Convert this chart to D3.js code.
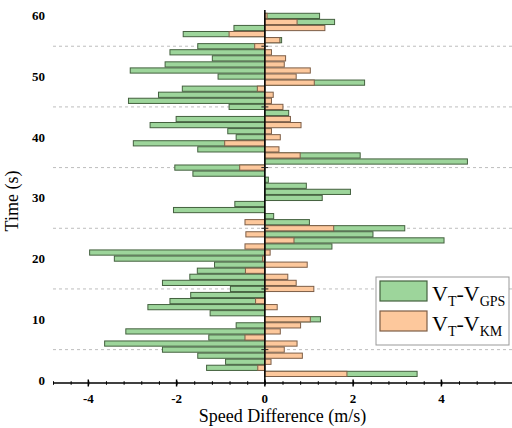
<!DOCTYPE html>
<html>
<head>
<meta charset="utf-8">
<script src="https://cdn.jsdelivr.net/npm/d3@7"></script>
<style>
  body { margin: 0; background: #fff; }
  text { font-family: "Liberation Serif", "Times New Roman", serif; }
</style>
</head>
<body>
<div id="chart"></div>
<script>
// time (s) of each bar
var time = [1, 2, 3, 4, 5, 6, 7, 8, 9, 10, 11, 12, 13, 14, 15, 16, 17, 18, 19, 20,
            21, 22, 23, 24, 25, 26, 27, 28, 29, 30, 31, 32, 33, 34, 35, 36, 37, 38, 39, 40,
            41, 42, 43, 44, 45, 46, 47, 48, 49, 50, 51, 52, 53, 54, 55, 56, 57, 58, 59, 60];

// V_T - V_GPS (m/s)
var gps = [3.45, -1.32, -0.89, -1.52, -2.32, -3.63, -1.27, -3.15, -0.65, 1.26,
           -1.24, -2.65, -2.15, -1.68, -0.78, -2.32, -1.70, -1.53, -1.14, -3.41,
           -3.97, 1.52, 4.06, 2.45, 3.17, 1.01, 0.20, -2.07, -0.68, 1.30,
           1.94, 0.94, 0.08, -1.63, -2.04, 4.59, 2.16, -1.52, -2.98, -0.65,
           -0.84, -2.60, -2.01, 0.54, -0.81, -3.09, -2.41, -1.87, 2.26, -1.06,
           -3.05, -2.26, -1.19, -2.15, -1.52, 0.38, -1.85, -0.70, 1.58, 1.24];

// V_T - V_KM (m/s)
var km = [1.86, -0.16, 0.14, 0.85, 0.44, 0.73, -0.45, 0.35, 0.81, 1.03,
          0, 0.28, -0.21, 0, 1.11, 0.71, 0.52, -0.44, 0.96, -0.05,
          0.12, -0.45, 0.66, -0.43, 1.56, -0.45, 0, 0, 0, 0,
          0, 0, 0, 0, -0.57, 0, 0.80, 0.32, -0.91, 0.35,
          0.15, 0.82, 0.58, 0, 0.41, 0.15, 0.19, -0.17, 1.12, 0.71,
          1.03, 0.44, 0.47, 0.15, -0.23, 0.34, -0.81, 1.36, 0.73, 0.05];

var xTicks = [-4, -2, 0, 2, 4];
var yTicks = [0, 10, 20, 30, 40, 50, 60];
var yGrid = [5, 15, 25, 35, 45, 55];

var margin = {top: 8, right: 0, bottom: 45, left: 53},
    width = 512 - margin.left - margin.right,
    height = 428 - margin.top - margin.bottom;

var svg = d3.select("#chart")
    .append("svg")
        .attr("width", 512)
        .attr("height", 428)
    .append("g")
        .attr("transform", "translate(" + margin.left + "," + margin.top + ")");

var x = d3.scaleLinear()
        .domain([-4.8, 5.6])
        .range([0, width]);

var y = d3.scaleLinear()
        .domain([-0.5, 61.3])
        .range([height, 0]);

var barH = 5.2;

// dashed grid lines
svg.selectAll(".grid")
    .data(yGrid)
  .enter().append("line")
    .attr("class", "grid")
    .attr("x1", 0)
    .attr("x2", width)
    .attr("y1", function(d) { return y(d) })
    .attr("y2", function(d) { return y(d) })
    .attr("stroke", "#bdbdbd")
    .attr("stroke-width", 1)
    .attr("stroke-dasharray", "3,3");

var gpsData = time.map(function(t, i) { return [t, gps[i]]; }).filter(function(d) { return d[1] != 0; });
var kmData = time.map(function(t, i) { return [t, km[i]]; }).filter(function(d) { return d[1] != 0; });

function bars(data, cls, fill, stroke) {
    svg.selectAll("." + cls)
        .data(data)
      .enter().append("rect")
        .attr("class", cls)
        .attr("x", function(d) { return x(Math.min(0, d[1])) })
        .attr("width", function(d) { return Math.abs(x(d[1]) - x(0)) })
        .attr("y", function(d) { return y(d[0]) - barH / 2 })
        .attr("height", barH)
        .attr("fill", fill)
        .attr("stroke", stroke)
        .attr("stroke-width", 1);
}

bars(gpsData, "gps", "#9dd59b", "#44613f");
bars(kmData, "km", "#fdc89c", "#7d5e47");

// zero line (y axis)
svg.append("line")
    .attr("x1", x(0)).attr("x2", x(0))
    .attr("y1", 2).attr("y2", height)
    .attr("stroke", "#000")
    .attr("stroke-width", 1.5);

svg.selectAll(".ytick")
    .data(yGrid)
  .enter().append("line")
    .attr("x1", x(0) - 3.5).attr("x2", x(0) + 3.5)
    .attr("y1", function(d) { return y(d) })
    .attr("y2", function(d) { return y(d) })
    .attr("stroke", "#222")
    .attr("stroke-width", 1);

// y tick labels on the left
svg.selectAll(".ylab")
    .data(yTicks)
  .enter().append("text")
    .attr("x", -8)
    .attr("y", function(d) { return y(d) })
    .attr("dy", "0.35em")
    .attr("text-anchor", "end")
    .attr("font-size", 13)
    .attr("font-weight", "bold")
    .attr("fill", "#000")
    .text(function(d) { return d });

// x axis
var xg = svg.append("g")
    .attr("transform", "translate(0," + height + ")");

xg.call(d3.axisBottom(x)
        .tickValues(d3.range(-4.8, 5.61, 0.4))
        .tickSize(0)
        .tickFormat(""))
    .call(function(g) { g.select(".domain").remove(); });

xg.append("line")
    .attr("x1", 0).attr("x2", width)
    .attr("stroke", "#000")
    .attr("stroke-width", 1.5);

xg.selectAll(".tick line")
    .attr("y1", -1.8).attr("y2", 1.8)
    .attr("stroke", "#000");

xg.selectAll(".major")
    .data(xTicks)
  .enter().append("line")
    .attr("x1", function(d) { return x(d) })
    .attr("x2", function(d) { return x(d) })
    .attr("y1", -3.5).attr("y2", 3.5)
    .attr("stroke", "#000")
    .attr("stroke-width", 1.5);

xg.selectAll(".xlab")
    .data(xTicks)
  .enter().append("text")
    .attr("x", function(d) { return x(d) })
    .attr("y", 20)
    .attr("text-anchor", "middle")
    .attr("font-size", 13)
    .attr("font-weight", "bold")
    .attr("font-family", "Liberation Serif")
    .attr("fill", "#000")
    .text(function(d) { return d });

svg.append("text")
    .attr("x", x(0.4))
    .attr("y", height + 39)
    .attr("text-anchor", "middle")
    .attr("font-size", 18)
    .text("Speed Difference (m/s)");

svg.append("text")
    .attr("transform", "translate(" + (-35) + "," + 193 + ") rotate(-90)")
    .attr("text-anchor", "middle")
    .attr("font-size", 18)
    .text("Time (s)");

// legend
var legend = svg.append("g")
    .attr("transform", "translate(" + (376 - margin.left) + "," + (277 - margin.top) + ")");

legend.append("rect")
    .attr("width", 133).attr("height", 68)
    .attr("fill", "#fff")
    .attr("stroke", "#999")
    .attr("stroke-width", 1);

var items = [["GPS", "#9dd59b", "#44613f"], ["KM", "#fdc89c", "#7d5e47"]];

items.forEach(function(it, i) {
    legend.append("rect")
        .attr("x", 4).attr("y", 4 + i * 30)
        .attr("width", 47).attr("height", 20)
        .attr("fill", it[1])
        .attr("stroke", it[2])
        .attr("stroke-width", 1.2);
    var t = legend.append("text")
        .attr("x", 56).attr("y", 24 + i * 30)
        .attr("font-size", 22);
    t.append("tspan").text("V");
    t.append("tspan").attr("font-size", 14).attr("dy", 5).text("T");
    t.append("tspan").attr("dy", -5).text("-V");
    t.append("tspan").attr("font-size", 14).attr("dy", 5).text(it[0]);
});
</script>
</body>
</html>
